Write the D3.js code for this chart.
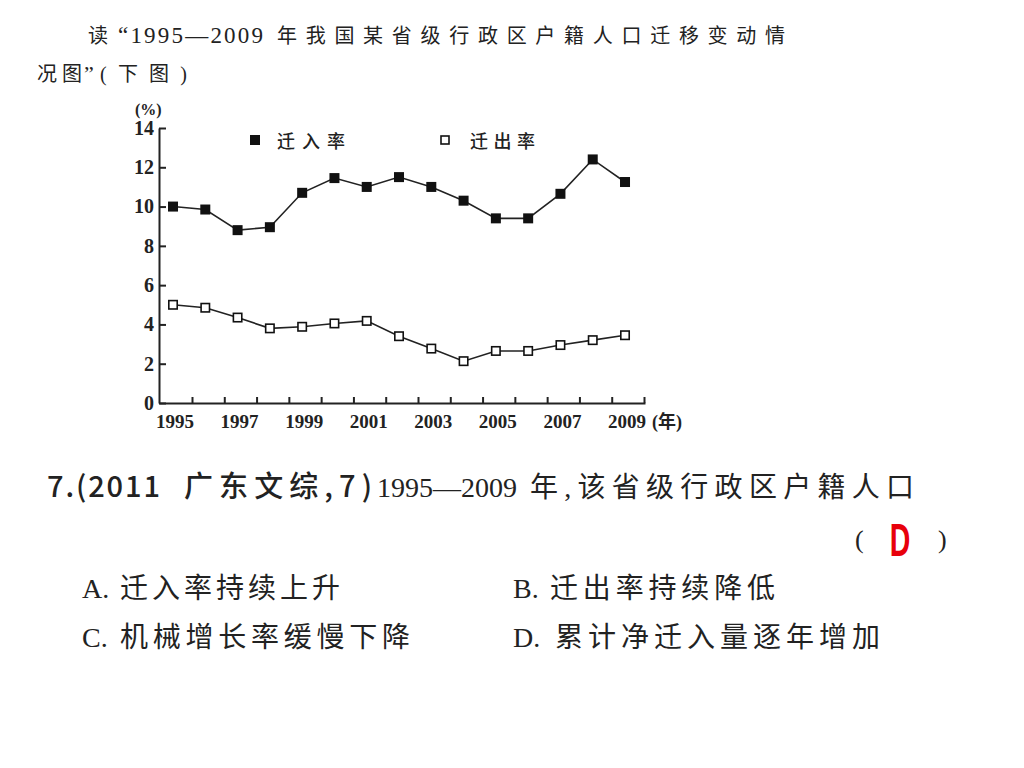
<!DOCTYPE html>
<html>
<head>
<meta charset="utf-8">
<script src="https://cdn.jsdelivr.net/npm/d3@7"></script>
<style>
  body { margin: 0; background: #fff; }
  svg text { fill: #222; }
</style>
</head>
<body>
<div id="chart"></div>
<script>
// data
var years = [1995, 1996, 1997, 1998, 1999, 2000, 2001, 2002, 2003, 2004, 2005, 2006, 2007, 2008, 2009];
var inRate = [10.0, 9.85, 8.8, 8.95, 10.7, 11.45, 11.0, 11.5, 11.0, 10.3, 9.4, 9.4, 10.65, 12.4, 11.25];
var outRate = [5.0, 4.85, 4.35, 3.8, 3.88, 4.05, 4.18, 3.4, 2.77, 2.13, 2.65, 2.65, 2.95, 3.2, 3.45];
var yTicks = [0, 2, 4, 6, 8, 10, 12, 14];
var xLabelYears = [1995, 1997, 1999, 2001, 2003, 2005, 2007, 2009];
var legendNames = ["迁入率", "迁出率"];

var serif = "'Liberation Serif', 'Noto Sans CJK SC', serif";
var sans = "'Noto Sans CJK SC', 'Liberation Sans', sans-serif";

var svg = d3
  .select("#chart")
  .append("svg")
  .attr("width", 1024)
  .attr("height", 768);

// Scales
var x_scale = d3.scaleLinear().domain([1994.566, 2009.619]).range([159, 645]);
var y_scale = d3.scaleLinear().domain([0, 14]).range([403, 128]);

// plain text helper
function addText(str, x, y, size, font, len, weight, color) {
  var t = svg
    .append("text")
    .attr("x", x)
    .attr("y", y)
    .style("font-family", font)
    .style("font-size", size + "px")
    .style("font-weight", weight || "normal")
    .text(str);
  if (len) t.attr("textLength", len).attr("lengthAdjust", "spacing");
  if (color) t.style("fill", color);
  return t;
}

// heading
addText("读", 88, 43, 20, serif);
addText("\u201C1995\u20142009", 118, 43, 23, serif, 145);
addText("年我国某省级行政区户籍人口迁移变动情", 277, 43, 20, serif, 508);
addText("况图", 37, 81, 20, serif, 45);
addText("\u201D", 84, 81, 22, serif);
addText("(下图)", 100, 81, 20, serif, 87);

// Axes
var y_axis = d3
  .axisLeft(y_scale)
  .tickValues(yTicks)
  .tickSizeInner(-7)
  .tickSizeOuter(0)
  .tickPadding(5);
var gy = svg
  .append("g")
  .attr("transform", "translate(159,0)")
  .call(y_axis);

var x_axis = d3
  .axisBottom(x_scale)
  .tickValues(years.map(d => d + 0.588))
  .tickFormat("")
  .tickSizeInner(-6)
  .tickSizeOuter(0);
var gx = svg
  .append("g")
  .attr("transform", "translate(0,403)")
  .call(x_axis);

[gx, gy].forEach(function(g) {
  g.selectAll("path, line").attr("stroke", "#222").attr("stroke-width", 2);
  g.selectAll("text")
    .style("font-family", serif)
    .style("font-size", "20px")
    .style("font-weight", "bold")
    .attr("fill", "#222");
});

svg
  .append("g")
  .selectAll("text")
  .data(xLabelYears)
  .enter()
  .append("text")
  .attr("x", d => x_scale(d) + 2)
  .attr("y", 428)
  .attr("text-anchor", "middle")
  .style("font-family", serif)
  .style("font-size", "19px")
  .style("font-weight", "bold")
  .text(d => d);

addText("(年)", 652, 428, 18, serif, null, "bold");
addText("(%)", 135, 115, 16, serif, null, "bold");

// Lines
var line = d3
  .line()
  .x((d, i) => x_scale(years[i]))
  .y(d => y_scale(d));

[inRate, outRate].forEach(function(series) {
  svg
    .append("path")
    .datum(series)
    .attr("d", line)
    .attr("fill", "none")
    .attr("stroke", "#222")
    .attr("stroke-width", 1.6);
});

var s = 10;
svg
  .append("g")
  .selectAll("rect")
  .data(inRate)
  .enter()
  .append("rect")
  .attr("x", (d, i) => x_scale(years[i]) - s / 2)
  .attr("y", d => y_scale(d) - s / 2)
  .attr("width", s)
  .attr("height", s)
  .attr("fill", "#111");

svg
  .append("g")
  .selectAll("rect")
  .data(outRate)
  .enter()
  .append("rect")
  .attr("x", (d, i) => x_scale(years[i]) - s / 2 + 0.8)
  .attr("y", d => y_scale(d) - s / 2 + 0.8)
  .attr("width", s - 1.6)
  .attr("height", s - 1.6)
  .attr("fill", "#fff")
  .attr("stroke", "#111")
  .attr("stroke-width", 1.6);

// Legend
svg.append("rect").attr("x", 250).attr("y", 135).attr("width", 10).attr("height", 10).attr("fill", "#111");
addText(legendNames[0], 277, 148, 18, sans, 68, "500");
svg
  .append("rect")
  .attr("x", 441)
  .attr("y", 136)
  .attr("width", 8)
  .attr("height", 8)
  .attr("fill", "#fff")
  .attr("stroke", "#111")
  .attr("stroke-width", 1.6);
addText(legendNames[1], 470, 148, 18, sans, 65, "500");

// question
addText("7.(2011", 47, 497, 29, sans, 113, "500");
addText("广东文综,7)", 184, 497, 29, sans, 188, "500");
addText("1995\u20142009", 377, 497, 28, serif);
addText("年,该省级行政区户籍人口", 530, 497, 28, serif, 384);
addText("(", 855, 548, 26, serif);
svg
  .append("text")
  .attr("transform", "translate(900,556) scale(0.62,1)")
  .attr("text-anchor", "middle")
  .style("font-family", "'Liberation Sans', sans-serif")
  .style("font-size", "46px")
  .style("font-weight", "bold")
  .style("fill", "#e8000b")
  .text("D");
addText(")", 938, 548, 26, serif);

addText("A.", 82, 598, 28, serif);
addText("迁入率持续上升", 120, 598, 28, serif, 220);
addText("B.", 513, 598, 28, serif);
addText("迁出率持续降低", 550, 598, 28, serif, 225);
addText("C.", 82, 647, 28, serif);
addText("机械增长率缓慢下降", 120, 647, 28, serif, 290);
addText("D.", 513, 647, 28, serif);
addText("累计净迁入量逐年增加", 555, 647, 28, serif, 325);
</script>
</body>
</html>
